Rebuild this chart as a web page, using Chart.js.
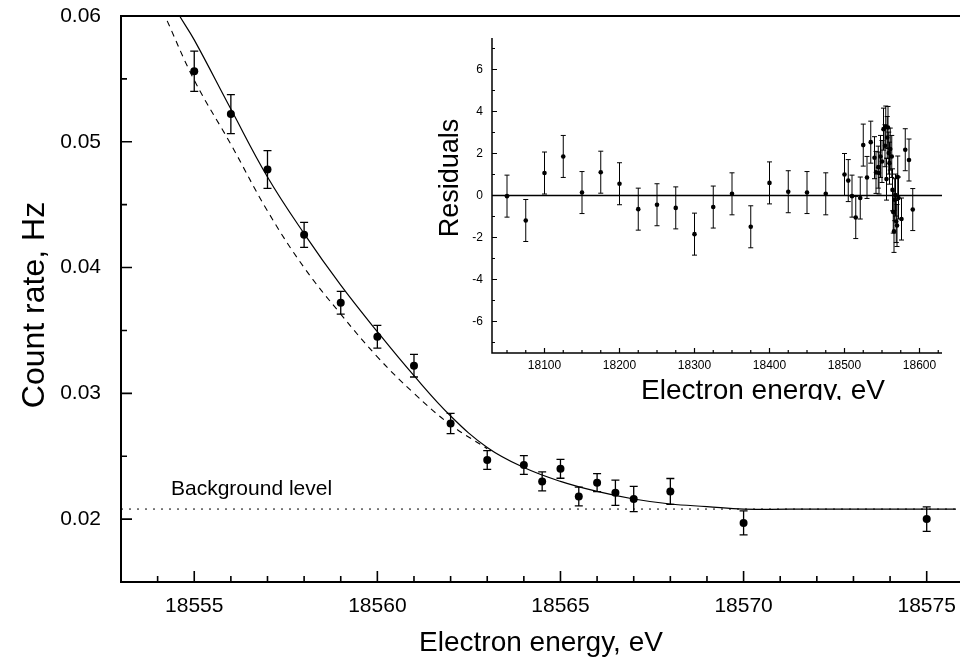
<!DOCTYPE html>
<html>
<head>
<meta charset="utf-8">
<title>Count rate near endpoint</title>
<script src="https://cdn.jsdelivr.net/npm/chart.js@4/dist/chart.umd.min.js"></script>
<style>
  html, body { margin: 0; padding: 0; background: #fff; }
  #wrap { position: relative; width: 960px; height: 664px; overflow: hidden; }
  #mainChart { position: absolute; left: 0; top: 0; }
  #insetChart { position: absolute; left: 420px; top: 30px; }
</style>
</head>
<body>
<div id="wrap">
  <canvas id="mainChart" width="960" height="664"></canvas>
  <canvas id="insetChart" width="540" height="370"></canvas>
</div>
<script>
const FONT = '"Liberation Sans", Arial, sans-serif';

// measured count rate (Hz) vs electron energy (eV)
const energy = [18555, 18556, 18557, 18558, 18559, 18560, 18561, 18562, 18563, 18564,
  18564.5, 18565, 18565.5, 18566, 18566.5, 18567, 18568, 18570, 18575];
const rate = [0.0556, 0.0522, 0.0478, 0.0426, 0.0372, 0.0345, 0.0322, 0.0276, 0.0247, 0.0243,
  0.0230, 0.0240, 0.0218, 0.0229, 0.0221, 0.0216, 0.0222, 0.0197, 0.0200];
const rateErr = [0.0016, 0.00155, 0.0015, 0.0010, 0.0009, 0.0009, 0.0009, 0.0008, 0.00075, 0.00075,
  0.00075, 0.00075, 0.00075, 0.00072, 0.001, 0.001, 0.00103, 0.00095, 0.00098];

// fitted spectrum (solid) and fit without the extra term (dashed)
const fitE = [18554.3, 18554.6, 18555, 18556, 18557, 18558, 18559, 18560, 18561, 18562,
  18563, 18564, 18565, 18566, 18567, 18568, 18569, 18570, 18572, 18576];
const fitRate = [0.0615, 0.0600, 0.0581, 0.0526, 0.0472, 0.0427, 0.0386, 0.0349, 0.0314, 0.0282,
  0.0257, 0.0241, 0.0230, 0.0222, 0.0216, 0.0212, 0.0210, 0.0208, 0.0208, 0.0208];
const altE = [18554.0, 18554.2, 18555, 18556, 18557, 18558, 18559, 18560, 18561, 18562, 18563];
const altRate = [0.0612, 0.0600, 0.0549, 0.0498, 0.0445, 0.0400, 0.0363, 0.0329, 0.0300, 0.0275, 0.0256];

const background = 0.0208;

const xTicks = [18555, 18560, 18565, 18570, 18575];
const yTicks = [0.02, 0.03, 0.04, 0.05, 0.06];
const yTickText = ['0.02', '0.03', '0.04', '0.05', '0.06'];

// residuals of the fit over the whole scanned range
const resE = [18050, 18075, 18100, 18125, 18150, 18175, 18200, 18225, 18250, 18275,
  18300, 18325, 18350, 18375, 18400, 18425, 18450, 18475,
  18500, 18505, 18510, 18515, 18521, 18525, 18530, 18535, 18540, 18542,
  18545, 18546, 18548, 18550, 18552, 18554, 18555, 18556, 18557, 18558,
  18559, 18560, 18561, 18563, 18564, 18565, 18566, 18567, 18568, 18569,
  18570, 18571, 18572, 18576, 18581, 18586, 18591];
const resVal = [-0.03, -1.19, 1.07, 1.86, 0.14, 1.11, 0.56, -0.65, -0.44, -0.59,
  -1.84, -0.55, 0.08, -1.49, 0.6, 0.18, 0.14, 0.08,
  1.0, 0.71, -0.03, -1.05, -0.12, 2.4, 0.86, 2.54, 1.8, 1.1,
  1.35, 1.07, 1.86, 1.62, 3.16, 2.37, 3.26, 0.78, 2.76, 3.24,
  2.02, 1.54, 2.21, 1.86, 0.27, -0.79, -1.71, -0.2, 0.02, -1.24,
  -1.43, 0.88, -0.12, -1.12, 2.18, 1.69, -0.67];
const resErr = 1.0;

const resXTicks = [18100, 18200, 18300, 18400, 18500, 18600];
const resYTicks = [-6, -4, -2, 0, 2, 4, 6];

function pts(xs, ys) {
  return xs.map((x, i) => ({ x: x, y: ys[i] }));
}

function range(from, to, step) {
  const out = [];
  for (let v = from; v <= to + step / 1000; v += step) out.push(+v.toFixed(6));
  return out;
}

function drawErrorBars(chart, dsIndex, errs, cap, width) {
  const ctx = chart.ctx;
  const xs = chart.scales.x, ys = chart.scales.y;
  const data = chart.data.datasets[dsIndex].data;
  ctx.save();
  ctx.strokeStyle = '#000';
  ctx.lineWidth = width;
  data.forEach((p, i) => {
    const e = Array.isArray(errs) ? errs[i] : errs;
    const px = xs.getPixelForValue(p.x);
    const y1 = ys.getPixelForValue(p.y + e);
    const y2 = ys.getPixelForValue(p.y - e);
    ctx.beginPath();
    ctx.moveTo(px, y1); ctx.lineTo(px, y2);
    ctx.moveTo(px - cap, y1); ctx.lineTo(px + cap, y1);
    ctx.moveTo(px - cap, y2); ctx.lineTo(px + cap, y2);
    ctx.stroke();
  });
  ctx.restore();
}

// inward ticks on the bottom and left edges, labels outside
function drawFrame(chart, o) {
  const ctx = chart.ctx;
  const a = chart.chartArea;
  const xs = chart.scales.x, ys = chart.scales.y;
  const right = o.toEdge ? chart.width : a.right;
  ctx.save();
  ctx.strokeStyle = '#000';
  ctx.lineWidth = o.axisWidth;
  ctx.beginPath();
  if (o.top) { ctx.moveTo(right, a.top); ctx.lineTo(a.left, a.top); } else ctx.moveTo(a.left, a.top);
  ctx.lineTo(a.left, a.bottom);
  ctx.lineTo(right, a.bottom);
  ctx.stroke();

  ctx.lineWidth = o.tickWidth;
  ctx.beginPath();
  o.xMinor.forEach(v => {
    const px = xs.getPixelForValue(v);
    const len = o.xMajor.includes(v) ? o.majorLen : o.minorLen;
    ctx.moveTo(px, a.bottom); ctx.lineTo(px, a.bottom - len);
  });
  o.yMinor.forEach(v => {
    const py = ys.getPixelForValue(v);
    const len = o.yMajor.some(m => Math.abs(m - v) < 1e-9) ? o.majorLen : o.minorLen;
    ctx.moveTo(a.left, py); ctx.lineTo(a.left + len, py);
  });
  ctx.stroke();

  ctx.fillStyle = '#000';
  ctx.font = o.tickFont + 'px ' + FONT;
  ctx.textAlign = 'center';
  ctx.textBaseline = 'top';
  o.xMajor.forEach(v => ctx.fillText(String(v), xs.getPixelForValue(v), a.bottom + o.xLabelGap));
  ctx.textAlign = 'right';
  ctx.textBaseline = 'middle';
  o.yMajor.forEach((v, i) => ctx.fillText(o.yText[i], a.left - o.yLabelGap, ys.getPixelForValue(v)));
  ctx.restore();
}

function drawText(ctx, text, x, y, size, rot, align) {
  ctx.save();
  ctx.fillStyle = '#000';
  ctx.font = size + 'px ' + FONT;
  ctx.translate(x, y);
  if (rot) ctx.rotate(-Math.PI / 2);
  ctx.textAlign = align || 'center';
  ctx.textBaseline = 'alphabetic';
  ctx.fillText(text, 0, 0);
  ctx.restore();
}

const mainDecor = {
  id: 'mainDecor',
  beforeDatasetsDraw(chart) {
    drawErrorBars(chart, 0, rateErr, 4, 1.3);
  },
  afterDraw(chart) {
    drawFrame(chart, {
      top: true, toEdge: true, axisWidth: 2, tickWidth: 1.6, majorLen: 11, minorLen: 6,
      xMajor: xTicks, xMinor: range(18554, 18575, 1),
      yMajor: yTicks, yMinor: range(0.02, 0.06, 0.005), yText: yTickText,
      tickFont: 21, xLabelGap: 14, yLabelGap: 20
    });
    const ctx = chart.ctx;
    drawText(ctx, 'Background level', 171, 495, 21, false, 'left');
    drawText(ctx, 'Electron energy, eV', 541, 651, 28, false);
    drawText(ctx, 'Count rate, Hz', 44, 305, 32, true);
  }
};

const insetDecor = {
  id: 'insetDecor',
  beforeDatasetsDraw(chart) {
    drawErrorBars(chart, 0, resErr, 2.5, 1);
  },
  afterDraw(chart) {
    drawFrame(chart, {
      top: false, toEdge: false, axisWidth: 1.5, tickWidth: 1.2, majorLen: 5, minorLen: 3,
      xMajor: resXTicks, xMinor: range(18050, 18625, 25),
      yMajor: resYTicks, yMinor: range(-7, 7, 1), yText: resYTicks.map(String),
      tickFont: 12, xLabelGap: 7, yLabelGap: 9
    });
    const ctx = chart.ctx;
    drawText(ctx, 'Residuals', 38, 148, 27, true);
    drawText(ctx, 'Electron energy, eV', 343, 369, 28, false);
  }
};

function hiddenScale(min, max) {
  return { type: 'linear', min: min, max: max, display: false };
}

new Chart(document.getElementById('mainChart'), {
  type: 'scatter',
  data: {
    datasets: [
      {
        data: pts(energy, rate), order: 0,
        pointRadius: 4, pointBackgroundColor: '#000', pointBorderColor: '#000', pointBorderWidth: 0
      },
      {
        type: 'line', data: pts(fitE, fitRate), order: 1, showLine: true,
        borderColor: '#000', borderWidth: 1.2, pointRadius: 0, fill: false,
        tension: 0.4, clip: 0
      },
      {
        type: 'line', data: pts(altE, altRate), order: 2, showLine: true,
        borderColor: '#000', borderWidth: 1.1, borderDash: [6, 5], pointRadius: 0, fill: false,
        tension: 0.4, clip: 0
      },
      {
        type: 'line', data: pts([18553, 18576], [background, background]), order: 3, showLine: true,
        borderColor: '#000', borderWidth: 1, borderDash: [2, 6], pointRadius: 0, fill: false, clip: 0
      }
    ]
  },
  options: {
    responsive: false,
    animation: false,
    devicePixelRatio: 1,
    layout: { padding: { left: 121, top: 16, right: 0, bottom: 82 } },
    plugins: { legend: { display: false }, tooltip: { enabled: false } },
    scales: { x: hiddenScale(18553, 18575.8), y: hiddenScale(0.015, 0.06) }
  },
  plugins: [mainDecor]
});

new Chart(document.getElementById('insetChart'), {
  type: 'scatter',
  data: {
    datasets: [
      {
        data: pts(resE, resVal), order: 0,
        pointRadius: 2.3, pointBackgroundColor: '#000', pointBorderColor: '#000', pointBorderWidth: 0
      },
      {
        type: 'line', data: pts([18030, 18630], [0, 0]), order: 1, showLine: true,
        borderColor: '#000', borderWidth: 1.5, pointRadius: 0, fill: false, clip: 0
      }
    ]
  },
  options: {
    responsive: false,
    animation: false,
    devicePixelRatio: 1,
    layout: { padding: { left: 72, top: 8, right: 18, bottom: 47 } },
    plugins: { legend: { display: false }, tooltip: { enabled: false } },
    scales: { x: hiddenScale(18030, 18630), y: hiddenScale(-7.5, 7.5) }
  },
  plugins: [insetDecor]
});
</script>
</body>
</html>
